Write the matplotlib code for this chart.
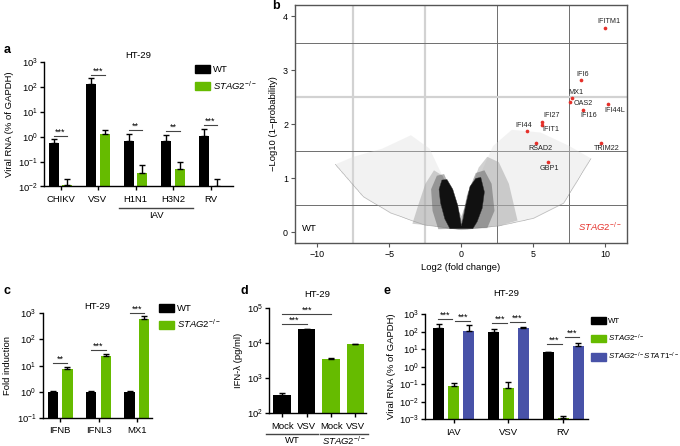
import matplotlib
matplotlib.use("Agg")
import matplotlib.pyplot as plt
import numpy as np
from matplotlib.ticker import LogLocator, NullLocator, LogFormatterSciNotation
from matplotlib.patches import Patch

plt.rcParams['font.family'] = ['Liberation Sans', 'DejaVu Sans']
plt.rcParams['mathtext.fontset'] = 'custom'
plt.rcParams['mathtext.rm'] = 'Liberation Sans'
plt.rcParams['mathtext.it'] = 'Liberation Sans:italic'
plt.rcParams['mathtext.bf'] = 'Liberation Sans:bold'
plt.rcParams['font.size'] = 6.8
plt.rcParams['axes.linewidth'] = 1.0

# ---------------- data ----------------
# panel a
cats_a = ['CHIKV', 'VSV', 'H1N1', 'H3N2', 'RV']
wt_a = [0.54, 138, 0.71, 0.67, 1.1]
wt_a_top = [0.83, 234, 1.36, 1.2, 2.0]
ko_a = [0.012, 1.32, 0.036, 0.052, 0.0105]
ko_a_top = [0.02, 1.8, 0.074, 0.1, 0.02]
sig_a = ['***', '***', '**', '**', '***']
sig_a_y = [1.08, 309, 1.9, 1.7, 3.0]

# panel b (volcano)
genes = ['IFITM1', 'IFI6', 'MX1', 'OAS2', 'IFI16', 'IFI44L', 'IFI27', 'IFIT1',
         'IFI44', 'RSAD2', 'GBP1', 'TRIM22']
gene_fc = [10.0, 8.33, 7.66, 7.57, 8.47, 10.2, 5.63, 5.63, 4.59, 5.19, 6.0, 9.71]
gene_p = [3.78, 2.82, 2.48, 2.42, 2.26, 2.37, 2.05, 1.98, 1.87, 1.65, 1.30, 1.65]
# cloud outlines
env_x = [-8.75, -6.8, -4.9, -2.6, 0.0, 2.6, 5.0, 7.1, 9.0]
env_y = [1.26, 0.66, 0.36, 0.14, 0.05, 0.12, 0.26, 0.54, 1.37]
sparse_top_x = [9.0, 7.5, 5.5, 3.5, 2.2, 0.0, -2.2, -3.5, -5.5, -7.5, -8.75]
sparse_top_y = [1.37, 1.6, 1.85, 1.9, 1.6, 0.3, 1.55, 1.8, 1.55, 1.4, 1.26]
mid_x = [-3.4, -3.0, -2.5, -1.9, -1.3, 0.0, 1.2, 1.8, 2.6, 3.3, 3.9, 2.6, 0.0, -2.6]
mid_y = [0.16, 0.5, 0.9, 1.15, 1.05, 0.3, 1.2, 1.4, 1.3, 0.9, 0.22, 0.12, 0.05, 0.14]
halo_x = [-1.6, -2.0, -2.1, -1.7, -1.2, -0.4, 0.0, 0.4, 1.0, 1.6, 2.1, 2.3, 1.8]
halo_y = [0.06, 0.4, 0.8, 1.05, 1.08, 0.6, 0.2, 0.7, 1.1, 1.15, 0.9, 0.4, 0.08]
core_x = [-0.8, -1.15, -1.45, -1.55, -1.35, -1.0, -0.6, -0.25, -0.08, 0.0,
          0.12, 0.3, 0.6, 1.0, 1.35, 1.6, 1.45, 1.1, 0.8]
core_y = [0.07, 0.25, 0.55, 0.8, 0.97, 0.98, 0.8, 0.5, 0.25, 0.12,
          0.25, 0.5, 0.85, 1.0, 1.02, 0.75, 0.45, 0.2, 0.07]

# panel c
cats_c = ['IFNB', 'IFNL3', 'MX1']
wt_c = [1.0, 1.0, 1.0]
wt_c_top = [1.05, 1.08, 1.05]
ko_c = [7.3, 23, 600]
ko_c_top = [8.5, 27, 810]
sig_c = ['**', '***', '***']
sig_c_y = [12.8, 39, 1050]

# panel d
cats_d = ['Mock', 'VSV', 'Mock', 'VSV']
ifn_d = [334, 25000, 3560, 9300]
ifn_d_top = [390, 25500, 3700, 9500]

# panel e
cats_e = ['IAV', 'VSV', 'RV']
wt_e = [166, 98, 6.6]
wt_e_top = [270, 140, 7.1]
ko_e = [0.083, 0.063, 0.0012]
ko_e_top = [0.11, 0.13, 0.0016]
dko_e = [107, 150, 15.8]
dko_e_top = [225, 190, 22]
sig_e1_y = [500, 295, 19.5]
sig_e2_y = [384, 364, 51]

BLACK = '#000000'
GREEN = '#66bb00'
BLUE = '#4852a8'
RED = '#e5302a'
STAG = r'$\mathit{STAG2}^{-/-}$'
DKO = r'$\mathit{STAG2}^{-/-}\mathit{STAT1}^{-/-}$'

W, H = 680, 446
fig = plt.figure(figsize=(W / 100, H / 100), dpi=100)


def px_axes(x0, y0, x1, y1):
    return fig.add_axes([x0 / W, 1 - y1 / H, (x1 - x0) / W, (y1 - y0) / H])


def fig_text(x, y, s, **kw):
    fig.text(x / W, 1 - y / H, s, **kw)


def style_bar_axes(ax):
    for s in ['top', 'right']:
        ax.spines[s].set_visible(False)
    ax.set_yscale('log')
    ax.yaxis.set_major_locator(LogLocator(base=10, numticks=20))
    ax.yaxis.set_minor_locator(NullLocator())
    ax.yaxis.set_major_formatter(LogFormatterSciNotation())
    ax.tick_params(axis='y', direction='out', length=3, width=1, pad=1.5, labelsize=6.8)
    ax.tick_params(axis='x', direction='out', length=3, width=1, pad=3, labelsize=6.8)


def bars(ax, xs, vals, tops, w, color):
    vals = np.asarray(vals, float)
    tops = np.asarray(tops, float)
    err = [np.zeros_like(vals), tops - vals]
    ax.bar(xs, vals, w, color=color, edgecolor='none', zorder=2)
    ax.errorbar(xs, vals, yerr=err, fmt='none', ecolor='black', elinewidth=1,
                capsize=2.3, capthick=1, zorder=3)


def sig(ax, x0, x1, y, s):
    ax.plot([x0, x1], [y, y], color='#444444', lw=0.8, clip_on=False, zorder=4)
    ax.annotate(s, ((x0 + x1) / 2, y), xytext=(0, -0.5), textcoords='offset points',
                ha='center', va='bottom', fontsize=6.5, annotation_clip=False)


def legend(ax, handles, x, y, fs=6.8, spacing=0.5, hl=1.6, hh=0.9):
    ax.legend(handles=handles, loc='upper left', bbox_to_anchor=(x / W, 1 - y / H),
              bbox_transform=fig.transFigure, frameon=False, borderpad=0,
              handlelength=hl, handleheight=hh, handletextpad=0.35,
              labelspacing=spacing, fontsize=fs, borderaxespad=0)


# ---------------- panel a ----------------
ax = px_axes(44, 62.3, 233, 186.5)
style_bar_axes(ax)
xa = np.arange(len(cats_a))
off, bw = 0.18, 0.27
bars(ax, xa - off, wt_a, wt_a_top, bw, BLACK)
bars(ax, xa + off, ko_a, ko_a_top, bw, GREEN)
ax.set_ylim(1e-2, 1e3)
ax.set_xlim(-0.44, 4.6)
ax.set_xticks(xa)
ax.set_xticklabels(cats_a)
ax.set_ylabel('Viral RNA (% of GAPDH)', fontsize=6.8, labelpad=3)
for i in range(len(cats_a)):
    sig(ax, xa[i] - off, xa[i] + off, sig_a_y[i], sig_a[i])
ax.set_title('HT-29', fontsize=6.8, pad=3)
ax.plot([1.57, 3.54], [-0.173, -0.173], color='#444444', lw=1,
        transform=ax.get_xaxis_transform(), clip_on=False)
ax.text(2.55, -0.235, 'IAV', transform=ax.get_xaxis_transform(), ha='center', va='center')
legend(ax, [Patch(color=BLACK, label='WT'), Patch(color=GREEN, label=STAG)], 195, 65)
fig_text(4, 50, 'a', fontsize=9, fontweight='bold', va='center')

# ---------------- panel b ----------------
axb = px_axes(295, 5, 627, 242.7)
axb.set_xlim(-11.55, 11.5)
axb.set_ylim(-0.19, 4.21)
for s in axb.spines.values():
    s.set_color('#555555')
    s.set_linewidth(1.0)
for xv in [-7.5, -2.5]:
    axb.axvline(xv, color='#d2d2d2', lw=1.6, zorder=0)
for xv in [2.5, 7.5]:
    axb.axvline(xv, color='#6e6e6e', lw=0.7, zorder=0)
for yv in [0.5, 1.5, 3.5]:
    axb.axhline(yv, color='#6e6e6e', lw=0.7, zorder=0)
axb.axhline(2.5, color='#d2d2d2', lw=1.6, zorder=0)
axb.fill(np.r_[env_x, sparse_top_x], np.r_[env_y, sparse_top_y],
         color='#dcdcdc', alpha=0.35, lw=0, zorder=1)
axb.plot(env_x, env_y, color='#8a8a8a', lw=0.5, ls=(0, (1, 0.6)), zorder=1)
axb.fill(mid_x, mid_y, color='#9a9a9a', alpha=0.45, lw=0, zorder=1)
axb.fill(halo_x, halo_y, color='#555555', alpha=0.45, lw=0, zorder=1)
axb.fill(core_x, core_y, color='#111111', lw=0.3, ec='#333333', zorder=2)
axb.scatter(gene_fc, gene_p, s=7, color=RED, zorder=5, linewidths=0)
label_off = {'IFITM1': (2.4, 4.6), 'IFI6': (1, 4.3), 'MX1': (2.9, 4.1), 'OAS2': (8.9, -1),
             'IFI16': (3.6, -3.8), 'IFI44L': (4.8, -4.3), 'IFI27': (6.7, 4.6),
             'IFIT1': (6.2, -3.1), 'IFI44': (-2.4, 4.3), 'RSAD2': (3.4, -4.1),
             'GBP1': (1.2, -4.3), 'TRIM22': (3.8, -4.1)}
for g, fx, py in zip(genes, gene_fc, gene_p):
    axb.annotate(g, (fx, py), xytext=label_off[g], textcoords='offset points',
                 ha='center', va='center', fontsize=5.2, color='#222222', zorder=6)
axb.set_xticks([-10, -5, 0, 5, 10])
axb.set_yticks([0, 1, 2, 3, 4])
axb.tick_params(direction='out', length=3, width=0.8, color='#555555', labelsize=6.4, pad=2)
axb.set_xlabel('Log2 (fold change)', fontsize=6.8, labelpad=3)
axb.set_ylabel('\u2212Log10 (1\u2212probability)', fontsize=6.8, labelpad=4)
axb.text(0.02, 0.04, 'WT', transform=axb.transAxes, fontsize=6.8, ha='left', va='bottom')
axb.text(0.985, 0.04, STAG, transform=axb.transAxes, fontsize=6.8, ha='right', va='bottom',
         color=RED)
fig_text(272, 6, 'b', fontsize=9, fontweight='bold', va='center')

# ---------------- panel c ----------------
axc = px_axes(42.7, 313.3, 152, 417.7)
style_bar_axes(axc)
xc = np.arange(len(cats_c))
offc, bwc = 0.19, 0.27
bars(axc, xc - offc, wt_c, wt_c_top, bwc, BLACK)
bars(axc, xc + offc, ko_c, ko_c_top, bwc, GREEN)
axc.set_ylim(1e-1, 1e3)
axc.set_xlim(-0.45, 2.39)
axc.set_xticks(xc)
axc.set_xticklabels(cats_c)
axc.set_ylabel('Fold induction', fontsize=6.8, labelpad=3)
for i in range(len(cats_c)):
    sig(axc, xc[i] - offc, xc[i] + offc, sig_c_y[i], sig_c[i])
axc.set_title('HT-29', fontsize=6.8, pad=3)
legend(axc, [Patch(color=BLACK, label='WT'), Patch(color=GREEN, label=STAG)], 159, 304)
fig_text(4, 291, 'c', fontsize=9, fontweight='bold', va='center')

# ---------------- panel d ----------------
axd = px_axes(269.3, 308.3, 366, 413.3)
style_bar_axes(axd)
xd = np.arange(len(cats_d))
bars(axd, xd, ifn_d, ifn_d_top, 0.72, [BLACK, BLACK, GREEN, GREEN])
axd.set_ylim(1e2, 1e5)
axd.set_xlim(-0.53, 3.43)
axd.set_xticks(xd)
axd.set_xticklabels(cats_d)
axd.tick_params(axis='x', pad=3.5)
axd.set_ylabel('IFN-\u03bb (pg/ml)', fontsize=6.8, labelpad=3)
sig(axd, xd[0], xd[1], 35600, '***')
axd.plot([xd[0], xd[2]], [67000, 67000], color='#444444', lw=0.8, zorder=4)
axd.annotate('***', (1.0, 67000), xytext=(0, -0.5), textcoords='offset points',
             ha='center', va='bottom', fontsize=6.5)
tr = axd.get_xaxis_transform()
axd.plot([-0.66, 1.45], [-0.2, -0.2], color='#444444', lw=1, transform=tr, clip_on=False)
axd.plot([1.55, 3.5], [-0.2, -0.2], color='#444444', lw=1, transform=tr, clip_on=False)
axd.text(0.4, -0.262, 'WT', transform=tr, ha='center', va='center')
axd.text(2.5, -0.262, STAG, transform=tr, ha='center', va='center')
axd.set_title('HT-29', fontsize=6.8, pad=8)
fig_text(240, 291, 'd', fontsize=9, fontweight='bold', va='center')

# ---------------- panel e ----------------
axe = px_axes(425, 314, 588.3, 419.3)
style_bar_axes(axe)
xe = np.arange(len(cats_e))
offe, bwe = 0.274, 0.205
bars(axe, xe - offe, wt_e, wt_e_top, bwe, BLACK)
bars(axe, xe, ko_e, ko_e_top, bwe, GREEN)
bars(axe, xe + offe, dko_e, dko_e_top, bwe, BLUE)
axe.set_ylim(1e-3, 1e3)
axe.set_xlim(-0.527, 2.46)
axe.set_xticks(xe)
axe.set_xticklabels(cats_e)
axe.set_ylabel('Viral RNA (% of GAPDH)', fontsize=6.8, labelpad=2)
for i in range(len(cats_e)):
    sig(axe, xe[i] - offe - 0.02, xe[i] - 0.03, sig_e1_y[i], '***')
    sig(axe, xe[i] + 0.03, xe[i] + offe + 0.02, sig_e2_y[i], '***')
axe.set_title('HT-29', fontsize=6.8, pad=13)
legend(axe, [Patch(color=BLACK, label='WT'), Patch(color=GREEN, label=STAG),
             Patch(color=BLUE, label=DKO)], 591, 317, fs=5.7, spacing=0.9, hl=1.85, hh=1.05)
fig_text(384, 291, 'e', fontsize=9, fontweight='bold', va='center')

fig.savefig('out.png', dpi=100)
